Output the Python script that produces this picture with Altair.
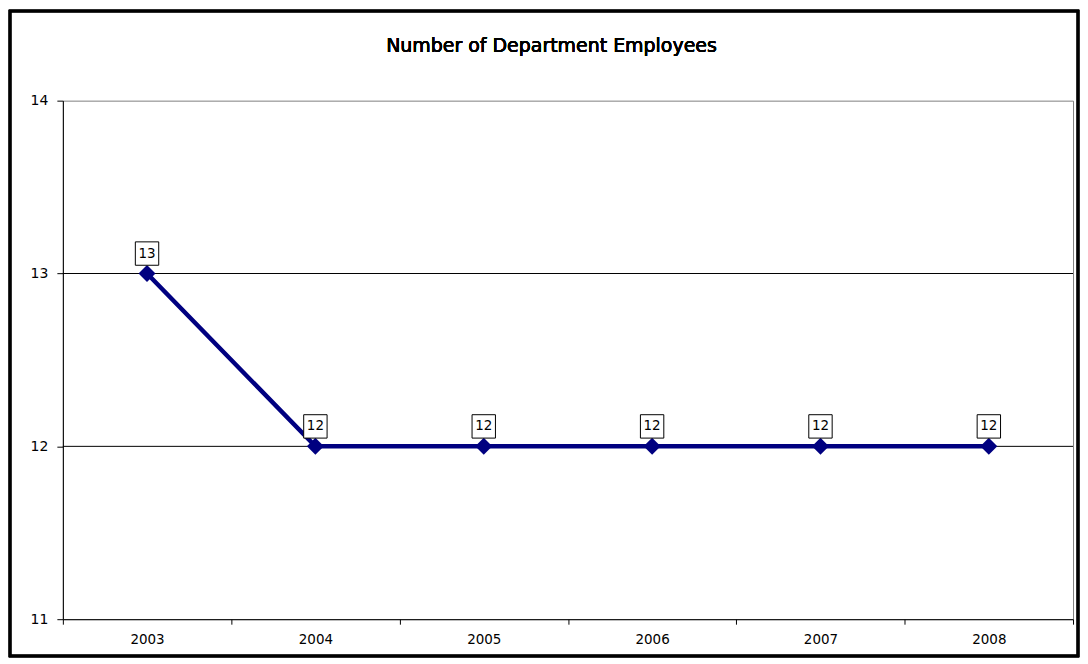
import altair as alt
import pandas as pd

years = ["2003", "2004", "2005", "2006", "2007", "2008"]
employees = [13, 12, 12, 12, 12, 12]
grid_values = [12, 13]
title_text = "Number of Department Employees"

df = pd.DataFrame({"year": years, "employees": employees})
grid_df = pd.DataFrame({"v": grid_values})

W, H = 1013, 520
FONT = "DejaVu Sans"

x_enc = alt.X(
    "year:N",
    sort=years,
    bandPosition=0.5,
    scale=alt.Scale(type="band", paddingInner=0, paddingOuter=0),
    axis=alt.Axis(
        title=None, labelAngle=0, tickBand="extent", tickSize=5, labelPadding=8,
        labelFontSize=13.5, labelColor="#000", domainColor="#000", tickColor="#000",
        labelFont=FONT, grid=False,
    ),
)
y_scale = alt.Scale(domain=[11, 14], nice=False, zero=False)
y_enc = alt.Y(
    "employees:Q",
    scale=y_scale,
    axis=alt.Axis(
        title=None, values=[11, 12, 13, 14], tickSize=6, labelPadding=9,
        labelFontSize=14, labelColor="#000", domainColor="#000", tickColor="#000",
        labelFont=FONT, grid=False, format="d",
    ),
)

grid = alt.Chart(grid_df).mark_rule(color="#000", strokeWidth=1).encode(
    y=alt.Y("v:Q", scale=y_scale)
)

line = alt.Chart(df).mark_line(color="#000080", strokeWidth=4.5).encode(x=x_enc, y=y_enc)
pts = alt.Chart(df).mark_point(
    shape="diamond", filled=True, color="#000080", size=290, opacity=1
).encode(x=x_enc, y=y_enc)
boxes = alt.Chart(df).mark_point(
    shape="square", filled=True, fill="white", stroke="#000", strokeWidth=1,
    size=550, opacity=1, yOffset=-20,
).encode(x=x_enc, y=y_enc)
labels = alt.Chart(df).mark_text(
    fontSize=13.5, font=FONT, color="#000", yOffset=-20, baseline="middle"
).encode(x=x_enc, y=y_enc, text="employees:Q")

title = alt.Chart(df).mark_text(
    fontSize=19, font=FONT, fontWeight="normal", color="#000", align="center",
    baseline="middle"
).encode(x=alt.value(490), y=alt.value(-55), text=alt.value(title_text))

frame = alt.Chart(df).mark_rect(
    fill=None, stroke="#000", strokeWidth=2.5
).encode(x=alt.value(-53), x2=alt.value(1018), y=alt.value(-90), y2=alt.value(557))

chart = alt.layer(frame, grid, line, pts, boxes, labels, title).properties(
    width=W, height=H,
    padding={"left": 55, "top": 92, "right": 7, "bottom": 40},
    autosize=alt.AutoSizeParams(type="none"),
    background="white",
).configure_view(stroke="#808080", strokeWidth=1, strokeOpacity=1)

chart.save("out.html", embed_options={"renderer": "svg", "actions": False})
